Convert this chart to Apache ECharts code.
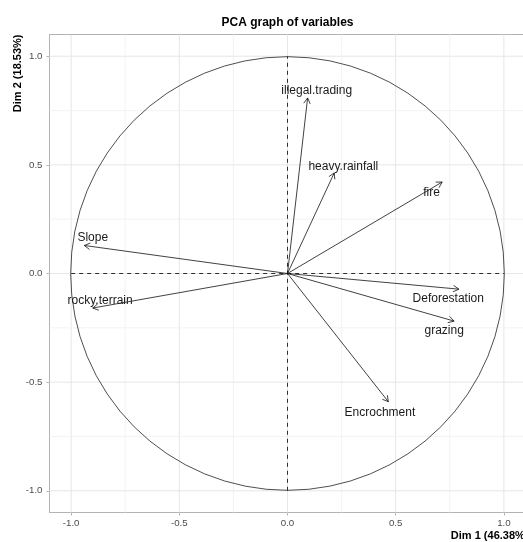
<!DOCTYPE html>
<html>
<head>
<meta charset="utf-8">
<script src="https://cdn.jsdelivr.net/npm/echarts@6/dist/echarts.min.js"></script>
<style>
  html, body { margin: 0; padding: 0; background: #ffffff; overflow: hidden; }
  #chart { width: 530px; height: 542px; }
</style>
</head>
<body>
<div id="chart"></div>
<script>
// Variable loadings on the first two principal dimensions
const variables = ['illegal.trading', 'heavy.rainfall', 'fire', 'Slope', 'rocky.terrain', 'Deforestation', 'grazing', 'Encrochment'];
const dim1 = [0.093, 0.216, 0.715, -0.939, -0.900, 0.792, 0.770, 0.466];
const dim2 = [0.808, 0.463, 0.421, 0.129, -0.159, -0.072, -0.219, -0.590];
// Repelled label anchors (data units)
const labelDim1 = [0.135, 0.258, 0.666, -0.900, -0.866, 0.743, 0.724, 0.427];
const labelDim2 = [0.843, 0.493, 0.370, 0.166, -0.126, -0.118, -0.264, -0.641];
// Axis ticks and grid
const tickValues = [-1.0, -0.5, 0.0, 0.5, 1.0];
const minorValues = [-0.75, -0.25, 0.25, 0.75];
const xTitle = 'Dim 1 (46.38%)';
const yTitle = 'Dim 2 (18.53%)';
const chartTitle = 'PCA graph of variables';

const FONT = '"Liberation Sans", Arial, Helvetica, sans-serif';
const chart = echarts.init(document.getElementById('chart'), null, { renderer: 'canvas' });

const gridData = tickValues.map(v => [v, 1]).concat(minorValues.map(v => [v, 0]));

function axisCommon(margin) {
  return {
    type: 'value',
    min: -1.1,
    max: 1.1,
    axisLine: { show: true, onZero: false, lineStyle: { color: '#b3b3b3', width: 1 } },
    axisTick: { show: true, length: 3, customValues: tickValues, lineStyle: { color: '#b3b3b3', width: 1 } },
    axisLabel: {
      customValues: tickValues,
      color: '#4d4d4d',
      fontSize: 9.7,
      fontFamily: FONT,
      margin: margin,
      formatter: v => Number(v).toFixed(1)
    },
    splitLine: { show: false },
    minorSplitLine: { show: false }
  };
}

const option = {
  animation: false,
  backgroundColor: '#ffffff',
  grid: { left: 49.5, top: 34.5, width: 476, height: 478, show: false },
  xAxis: axisCommon(6),
  yAxis: axisCommon(7),
  graphic: [
    { type: 'text', x: 287.5, y: 22.5, style: { text: chartTitle, font: 'bold 12px ' + FONT, fill: '#000000', align: 'center', verticalAlign: 'middle' } },
    { type: 'text', x: 528.5, y: 536, style: { text: xTitle, font: 'bold 11px ' + FONT, fill: '#000000', align: 'right', verticalAlign: 'middle' } },
    { type: 'text', x: 18, y: 34.5, rotation: Math.PI / 2, style: { text: yTitle, font: 'bold 11px ' + FONT, fill: '#000000', align: 'right', verticalAlign: 'middle' } }
  ],
  series: [
    {
      // panel grid lines and top edge of the panel
      type: 'custom',
      silent: true,
      z: 1,
      data: gridData,
      renderItem: function (params, api) {
        const cs = params.coordSys;
        const v = api.value(0);
        const major = api.value(1) === 1;
        const px = api.coord([v, 0])[0];
        const py = api.coord([0, v])[1];
        const style = { stroke: major ? '#e6e6e6' : '#f0f0f0', lineWidth: major ? 1 : 0.8 };
        const children = [
          { type: 'line', shape: { x1: px, y1: cs.y, x2: px, y2: cs.y + cs.height }, style: style },
          { type: 'line', shape: { x1: cs.x, y1: py, x2: cs.x + cs.width, y2: py }, style: style }
        ];
        if (params.dataIndex === 0) {
          children.push({ type: 'line', shape: { x1: cs.x, y1: cs.y, x2: cs.x + cs.width, y2: cs.y }, style: { stroke: '#b3b3b3', lineWidth: 1 } });
        }
        return { type: 'group', children: children };
      }
    },
    {
      // dashed reference axes
      type: 'line',
      silent: true,
      z: 2,
      symbol: 'none',
      data: [[-1, 0], [1, 0]],
      lineStyle: { color: '#000000', width: 0.8, type: [4, 4] }
    },
    {
      type: 'line',
      silent: true,
      z: 2,
      symbol: 'none',
      data: [[0, -1], [0, 1]],
      lineStyle: { color: '#000000', width: 0.8, type: [4, 4] }
    },
    {
      // correlation circle
      type: 'custom',
      silent: true,
      z: 3,
      data: [[0, 0]],
      renderItem: function (params, api) {
        const c = api.coord([0, 0]);
        const s = api.size([1, 1]);
        return {
          type: 'circle',
          shape: { cx: c[0], cy: c[1], r: (s[0] + s[1]) / 2 },
          style: { fill: 'none', stroke: '#222222', lineWidth: 0.8 }
        };
      }
    },
    {
      // loading arrows
      type: 'custom',
      silent: true,
      z: 4,
      data: dim1.map((x, i) => [x, dim2[i]]),
      renderItem: function (params, api) {
        const o = api.coord([0, 0]);
        const p = api.coord([api.value(0), api.value(1)]);
        const a = Math.atan2(p[1] - o[1], p[0] - o[0]);
        const L = 6.5, th = Math.PI / 6;
        const h1 = [p[0] - L * Math.cos(a - th), p[1] - L * Math.sin(a - th)];
        const h2 = [p[0] - L * Math.cos(a + th), p[1] - L * Math.sin(a + th)];
        const style = { stroke: '#111111', lineWidth: 0.8, fill: 'none' };
        return {
          type: 'group',
          children: [
            { type: 'line', shape: { x1: o[0], y1: o[1], x2: p[0], y2: p[1] }, style: style },
            { type: 'polyline', shape: { points: [h1, p, h2] }, style: style }
          ]
        };
      }
    },
    {
      // variable names
      type: 'custom',
      silent: true,
      z: 5,
      data: labelDim1.map((x, i) => [x, labelDim2[i], i]),
      renderItem: function (params, api) {
        const p = api.coord([api.value(0), api.value(1)]);
        return {
          type: 'text',
          x: p[0], y: p[1],
          style: { text: variables[api.value(2)], font: '12px ' + FONT, fill: '#1a1a1a', align: 'center', verticalAlign: 'middle' }
        };
      }
    }
  ]
};

chart.setOption(option);
</script>
</body>
</html>
